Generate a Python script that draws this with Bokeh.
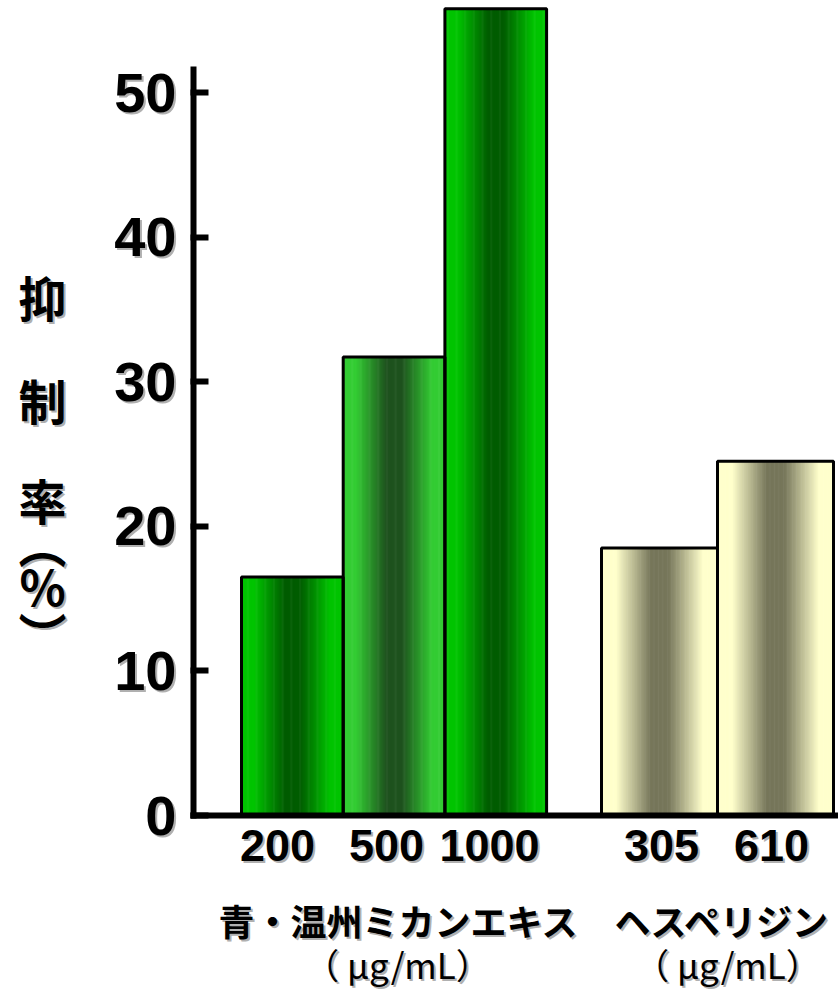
from bokeh.plotting import figure
from bokeh.models import FixedTicker, Range1d, LinearAxis, Label
from bokeh.embed import file_html
from bokeh.resources import INLINE

# ---------------- data ----------------
categories = ["200", "500", "1000", "305", "610"]
group_of_bar = [0, 0, 0, 1, 1]
groups = ["青・温州ミカンエキス", "ヘスペリジン"]
values = [16.5, 31.7, 55.8, 18.5, 24.5]
y_ticks = [0, 10, 20, 30, 40, 50]
unit_label = "（ μg/mL）"
y_title_chars = ["抑", "制", "率", "︵", "%", "︶"]

# ---------------- layout / style ----------------
PAGE_W, PAGE_H = 838, 993
AXIS_X_PX = 190          # page x of the value axis (data x = 0)
ZERO_PX = 815            # page y of value 0
PX_PER_UNIT = 14.46
AXIS_TOP_PX = 66

GROUP_START_PX = [241, 601]
GROUP_BAR_W = [101.7, 116.0]
CAT_LABEL_X_PX = [277, 386, 489, 661, 771]
GROUP_LABEL_X_PX = [398, 722]
GROUP_LABEL_Y_PX = 919
UNIT_LABEL_X_PX = [397, 727]
UNIT_LABEL_Y_PX = 963
TITLE_X_PX = 42
TITLE_Y_PX = [295, 398, 498, 541, 584, 632]

EDGE_COLORS = ["#00C400", "#33CC33", "#00C400", "#FFFFCC", "#FFFFCC"]
CENTER_COLORS = ["#005C00", "#1E521E", "#005C00", "#76765A", "#76765A"]

JP = "Noto Sans CJK JP"
NUM = "Liberation Sans"
SHADOW = "#B0B0B0"
SH = 2  # shadow offset, px


def xd(px):
    return px - AXIS_X_PX


def yd(py):
    return (ZERO_PX - py) / PX_PER_UNIT


def hex2rgb(h):
    h = h.lstrip("#")
    return [int(h[i:i + 2], 16) for i in (0, 2, 4)]


def mix(c_edge, c_center, t):
    a, b = hex2rgb(c_edge), hex2rgb(c_center)
    r = [round(b[i] + (a[i] - b[i]) * t) for i in range(3)]
    return "#%02x%02x%02x" % tuple(r)


# bar positions from group layout
lefts, rights = [], []
counters = {0: 0, 1: 0}
for g in group_of_bar:
    k = counters[g]
    l = xd(GROUP_START_PX[g]) + k * GROUP_BAR_W[g]
    lefts.append(l)
    rights.append(l + GROUP_BAR_W[g])
    counters[g] += 1

p = figure(frame_width=PAGE_W, frame_height=PAGE_H, min_border=0,
           x_range=Range1d(xd(0), xd(PAGE_W)), y_range=Range1d(yd(PAGE_H), yd(0)),
           x_axis_location=None, y_axis_location=None,
           output_backend="svg", toolbar_location=None)
p.outline_line_color = None
p.xgrid.visible = False
p.ygrid.visible = False
p.background_fill_color = "white"
p.border_fill_color = "white"

# gradient strips
N = 90
sl, sr, st, sb, sc = [], [], [], [], []
for i in range(len(values)):
    w = (rights[i] - lefts[i]) / N
    for k in range(N):
        u = (k + 0.5) / N
        s = abs(u - 0.5) * 2
        t = min(1.0, max(0.0, (s - 0.15) / 0.6))
        sl.append(lefts[i] + k * w)
        sr.append(min(rights[i], lefts[i] + (k + 1) * w + 0.6))
        sb.append(0)
        st.append(values[i])
        sc.append(mix(EDGE_COLORS[i], CENTER_COLORS[i], t))
p.quad(left=sl, right=sr, top=st, bottom=sb, fill_color=sc, line_color=None)
# outlines
p.quad(left=lefts, right=rights, top=values, bottom=[0] * len(values),
       fill_color=None, line_color="black", line_width=3)

# axis lines
p.segment(x0=[3], y0=[yd(ZERO_PX + 3)], x1=[3], y1=[yd(AXIS_TOP_PX)],
          line_color="black", line_width=6)
p.segment(x0=[0], y0=[0], x1=[xd(PAGE_W)], y1=[0], line_color="black", line_width=6)


def style_axis(ax, font, size, color, standoff, ticks=False):
    ax.axis_line_color = None
    ax.minor_tick_line_color = None
    ax.major_tick_out = 0
    if ticks:
        ax.major_tick_in = 18
        ax.major_tick_line_width = 6
        ax.major_tick_line_color = "black"
    else:
        ax.major_tick_in = 0
        ax.major_tick_line_color = None
    ax.major_label_text_font = font
    ax.major_label_text_font_style = "bold"
    ax.major_label_text_font_size = size
    ax.major_label_text_color = color
    ax.major_label_standoff = standoff


dy = SH / PX_PER_UNIT

# value axis: shadow then main
ysh_ticks = [t - dy for t in y_ticks]
ysh = LinearAxis(fixed_location=SH, ticker=FixedTicker(ticks=ysh_ticks),
                 major_label_overrides={a: str(t) for a, t in zip(ysh_ticks, y_ticks)})
style_axis(ysh, NUM, "56px", SHADOW, 14)
p.add_layout(ysh, "left")
ya = LinearAxis(fixed_location=0, ticker=FixedTicker(ticks=y_ticks))
style_axis(ya, NUM, "56px", "black", 14, ticks=True)
p.add_layout(ya, "left")

# category axis: shadow then main
cat_x = [xd(v) for v in CAT_LABEL_X_PX]
xsh_ticks = [x + SH for x in cat_x]
xsh = LinearAxis(fixed_location=-dy, ticker=FixedTicker(ticks=xsh_ticks),
                 major_label_overrides={a: c for a, c in zip(xsh_ticks, categories)})
style_axis(xsh, NUM, "45px", SHADOW, 14)
p.add_layout(xsh, "below")
xa = LinearAxis(fixed_location=0, ticker=FixedTicker(ticks=cat_x),
                major_label_overrides={a: c for a, c in zip(cat_x, categories)})
style_axis(xa, NUM, "45px", "black", 14)
p.add_layout(xa, "below")


def add_text(xpx, ypx, text, size, bold=True):
    style = "bold" if bold else "normal"
    for off, col in ((SH, SHADOW), (0, "black")):
        p.add_layout(Label(x=xd(xpx), y=yd(ypx), text=text, x_offset=off, y_offset=-off,
                           text_font=JP, text_font_style=style,
                           text_font_size=size, text_color=col,
                           text_align="center", text_baseline="middle"))


for gx, ux, name in zip(GROUP_LABEL_X_PX, UNIT_LABEL_X_PX, groups):
    add_text(gx, GROUP_LABEL_Y_PX, name, "36px", bold=True)
    add_text(ux, UNIT_LABEL_Y_PX, unit_label, "35px", bold=False)

for ch, py in zip(y_title_chars, TITLE_Y_PX):
    add_text(TITLE_X_PX, py, ch, "48px", bold=True)

open("out.html", "w").write(file_html(p, INLINE))
